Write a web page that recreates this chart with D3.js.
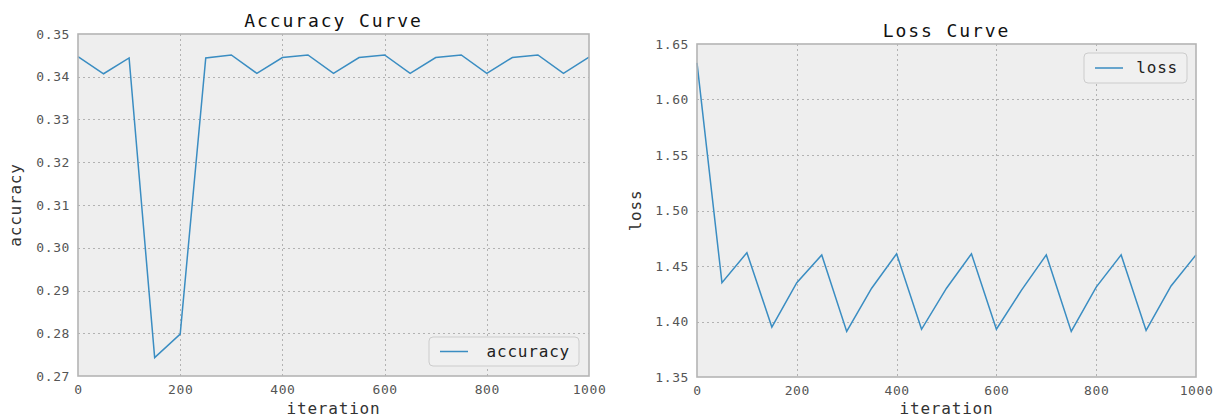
<!DOCTYPE html>
<html>
<head>
<meta charset="utf-8">
<script src="https://cdn.jsdelivr.net/npm/d3@7"></script>
<style>
  html, body { margin: 0; padding: 0; background: #ffffff; }
  svg { display: block; }
  text { font-family: "DejaVu Sans Mono", monospace; }
</style>
</head>
<body>
<svg id="chart" width="1215" height="419"></svg>
<script>
// Training log: sampled every 50 iterations
const iterations = [0, 50, 100, 150, 200, 250, 300, 350, 400, 450, 500,
                    550, 600, 650, 700, 750, 800, 850, 900, 950, 1000];
const accuracy = [0.3447, 0.3407, 0.3444, 0.2743, 0.2798, 0.3444, 0.3451, 0.3408,
                  0.3445, 0.3451, 0.3408, 0.3445, 0.3451, 0.3408, 0.3445, 0.3451,
                  0.3408, 0.3445, 0.3451, 0.3408, 0.3446];
const loss = [1.633, 1.435, 1.462, 1.395, 1.435, 1.460, 1.391, 1.430, 1.461, 1.393,
              1.430, 1.461, 1.393, 1.428, 1.460, 1.391, 1.431, 1.460, 1.392, 1.432, 1.460];

const xTicks = [0, 200, 400, 600, 800, 1000];
const accTicks = [0.27, 0.28, 0.29, 0.30, 0.31, 0.32, 0.33, 0.34, 0.35];
const lossTicks = [1.35, 1.40, 1.45, 1.50, 1.55, 1.60, 1.65];

const svg = d3.select("#chart");
const lineColor = "#3A8DC2";

function drawPanel(cfg) {
  const { box, values, yDomain, yTicks, yFmt, title, yLabel, legend } = cfg;
  const x = d3.scaleLinear().domain([0, 1000]).range([box.x0, box.x1]);
  const y = d3.scaleLinear().domain(yDomain).range([box.y1, box.y0]);
  const g = svg.append("g");

  // plot background
  g.append("rect")
    .attr("x", box.x0).attr("y", box.y0)
    .attr("width", box.x1 - box.x0).attr("height", box.y1 - box.y0)
    .attr("fill", "#eeeeee");

  // dotted grid
  const grid = g.append("g")
    .attr("stroke", "#b2b2b2").attr("stroke-width", 1)
    .attr("stroke-dasharray", "2,3");
  grid.selectAll("line.gx").data(xTicks.slice(1, -1)).join("line")
    .attr("x1", d => Math.round(x(d)) + 0.5).attr("x2", d => Math.round(x(d)) + 0.5)
    .attr("y1", box.y0).attr("y2", box.y1);
  grid.selectAll("line.gy").data(yTicks.slice(1, -1)).join("line")
    .attr("y1", d => Math.round(y(d)) + 0.5).attr("y2", d => Math.round(y(d)) + 0.5)
    .attr("x1", box.x0).attr("x2", box.x1);

  // data line
  const line = d3.line().x((d, i) => x(iterations[i])).y(d => y(d));
  g.append("path").datum(values)
    .attr("d", line).attr("fill", "none")
    .attr("stroke", lineColor).attr("stroke-width", 1.5)
    .attr("stroke-linejoin", "miter");

  // frame
  g.append("rect")
    .attr("x", box.x0).attr("y", box.y0)
    .attr("width", box.x1 - box.x0).attr("height", box.y1 - box.y0)
    .attr("fill", "none").attr("stroke", "#b4b4b4").attr("stroke-width", 1.6);

  // axes (tick labels only)
  const xAxis = d3.axisBottom(x).tickValues(xTicks).tickSize(0).tickPadding(9)
    .tickFormat(d3.format("d"));
  const gx = g.append("g").attr("transform", `translate(0,${box.y1})`).call(xAxis);
  const yAxis = d3.axisLeft(y).tickValues(yTicks).tickSize(0).tickPadding(8)
    .tickFormat(yFmt);
  const gy = g.append("g").attr("transform", `translate(${box.x0},0)`).call(yAxis);
  [gx, gy].forEach(a => {
    a.select(".domain").remove();
    a.selectAll("text")
      .attr("font-family", "DejaVu Sans Mono, monospace")
      .attr("font-size", 13).attr("letter-spacing", 0.6)
      .attr("fill", "#555555");
  });

  // title
  g.append("text")
    .attr("x", (box.x0 + box.x1) / 2).attr("y", box.y0 - 7)
    .attr("text-anchor", "middle")
    .attr("font-size", 18).attr("letter-spacing", 1.9)
    .attr("fill", "#111111").text(title);

  // axis labels
  g.append("text")
    .attr("x", (box.x0 + box.x1) / 2).attr("y", 414)
    .attr("text-anchor", "middle")
    .attr("font-size", 16).attr("letter-spacing", 0.8)
    .attr("fill", "#333333").text("iteration");
  g.append("text")
    .attr("transform", `translate(${cfg.yLabelX},${(box.y0 + box.y1) / 2}) rotate(-90)`)
    .attr("text-anchor", "middle")
    .attr("font-size", 16).attr("letter-spacing", 0.8)
    .attr("fill", "#333333").text(yLabel);

  // legend
  const lg = g.append("g");
  lg.append("rect")
    .attr("x", legend.x).attr("y", legend.y)
    .attr("width", legend.w).attr("height", legend.h)
    .attr("rx", 4).attr("ry", 4)
    .attr("fill", "#f0f0f0").attr("stroke", "#cccccc").attr("stroke-width", 1);
  lg.append("line")
    .attr("x1", legend.x + 11).attr("x2", legend.x + 39)
    .attr("y1", legend.y + legend.h / 2).attr("y2", legend.y + legend.h / 2)
    .attr("stroke", lineColor).attr("stroke-width", 1.5);
  lg.append("text")
    .attr("x", legend.x + legend.w - 9).attr("y", legend.y + legend.h / 2 + 5)
    .attr("text-anchor", "end")
    .attr("font-size", 16).attr("letter-spacing", 0.8)
    .attr("fill", "#222222").text(yLabel);
}

drawPanel({
  box: { x0: 78, x1: 589, y0: 34, y1: 376 },
  values: accuracy,
  yDomain: [0.27, 0.35],
  yTicks: accTicks,
  yFmt: d3.format(".2f"),
  title: "Accuracy Curve",
  yLabel: "accuracy",
  yLabelX: 21,
  legend: { x: 429, y: 337, w: 150, h: 29 }
});

drawPanel({
  box: { x0: 697, x1: 1196, y0: 44, y1: 377 },
  values: loss,
  yDomain: [1.35, 1.65],
  yTicks: lossTicks,
  yFmt: d3.format(".2f"),
  title: "Loss Curve",
  yLabel: "loss",
  yLabelX: 641,
  legend: { x: 1084, y: 53, w: 103, h: 30 }
});
</script>
</body>
</html>
